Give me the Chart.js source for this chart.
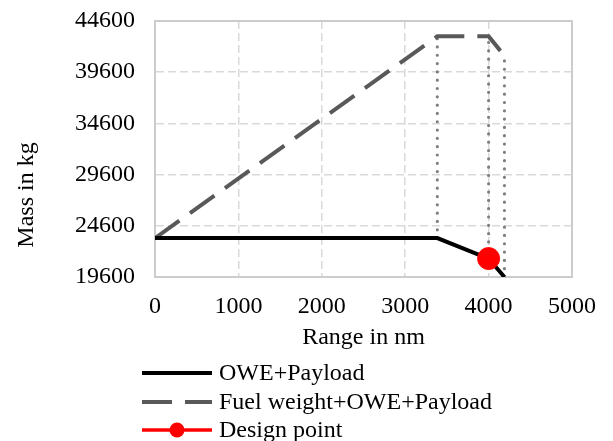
<!DOCTYPE html>
<html>
<head>
<meta charset="utf-8">
<script src="https://cdn.jsdelivr.net/npm/chart.js@4.4.0/dist/chart.umd.min.js"></script>
<style>
  html, body { margin: 0; padding: 0; background: #fff; }
</style>
</head>
<body>
<canvas id="grafico" width="613" height="441"></canvas>
<script>
// puntos de esquina del diagrama carga de pago - alcance
var rangoNm = [0, 3385, 4000, 4190];
var owePayload = [23400, 23400, 21400, 19600];
var fuelOwePayload = [23400, 43100, 43100, 41200];
var designRange = [4000];
var designMass = [21400];
var xTicks = [0, 1000, 2000, 3000, 4000, 5000];
var yTicks = [19600, 24600, 29600, 34600, 39600, 44600];
var legendLabels = ['OWE+Payload', 'Fuel weight+OWE+Payload', 'Design point'];

var fuente = "'Liberation Serif', 'Times New Roman', serif";

function puntos(xs, ys) {
  return xs.map((x, i) => ({ x: x, y: ys[i] }));
}

// lineas punteadas verticales entre las dos curvas
var lineasVerticales = [1, 2, 3].map(i => ({
  label: 'drop' + i,
  data: [{ x: rangoNm[i], y: owePayload[i] }, { x: rangoNm[i], y: fuelOwePayload[i] }],
  borderColor: '#7f7f7f',
  borderWidth: 3.2,
  borderCapStyle: 'round',
  borderDash: [0.01, 8.3],
  pointRadius: 0,
  order: 5
}));

// leyenda y titulo del eje y dibujados a mano (leyenda en columna)
var leyendaPlugin = {
  id: 'leyendaPlugin',
  afterDraw(chart) {
    var ctx = chart.ctx;
    ctx.save();
    ctx.fillStyle = '#000';
    ctx.font = '24px ' + fuente;
    ctx.textBaseline = 'middle';

    ctx.save();
    ctx.translate(27, 195);
    ctx.rotate(-Math.PI / 2);
    ctx.textAlign = 'center';
    ctx.fillText('Mass in kg', 0, 0);
    ctx.restore();

    var filas = [373, 402, 430];
    var x0 = 142, x1 = 212;
    ctx.lineCap = 'butt';
    // fila 1
    ctx.strokeStyle = '#000';
    ctx.lineWidth = 4;
    ctx.setLineDash([]);
    ctx.beginPath(); ctx.moveTo(x0, filas[0]); ctx.lineTo(x1, filas[0]); ctx.stroke();
    // fila 2
    ctx.strokeStyle = '#595959';
    ctx.setLineDash([30, 13]);
    ctx.beginPath(); ctx.moveTo(x0, filas[1]); ctx.lineTo(x1, filas[1]); ctx.stroke();
    // fila 3
    ctx.setLineDash([]);
    ctx.strokeStyle = '#ff0000';
    ctx.lineWidth = 3.5;
    ctx.beginPath(); ctx.moveTo(x0, filas[2]); ctx.lineTo(x1, filas[2]); ctx.stroke();
    ctx.fillStyle = '#ff0000';
    ctx.beginPath(); ctx.arc((x0 + x1) / 2, filas[2], 7.5, 0, Math.PI * 2); ctx.fill();

    ctx.fillStyle = '#000';
    ctx.textAlign = 'left';
    legendLabels.forEach((t, i) => ctx.fillText(t, 219, filas[i] + 1));
    ctx.restore();
  }
};

var ctx = document.getElementById('grafico').getContext('2d');
new Chart(ctx, {
  type: 'line',
  data: {
    datasets: [
      {
        label: legendLabels[2],
        data: puntos(designRange, designMass),
        borderColor: '#ff0000',
        backgroundColor: '#ff0000',
        pointRadius: 11,
        pointHoverRadius: 11,
        showLine: false,
        order: 0
      },
      {
        label: legendLabels[0],
        data: puntos(rangoNm, owePayload),
        borderColor: '#000000',
        borderWidth: 4,
        pointRadius: 0,
        order: 1
      },
      {
        label: legendLabels[1],
        data: puntos(rangoNm, fuelOwePayload),
        borderColor: '#595959',
        borderWidth: 4,
        borderDash: [30, 13],
        pointRadius: 0,
        order: 2
      }
    ].concat(lineasVerticales)
  },
  options: {
    responsive: false,
    animation: false,
    layout: { padding: { left: 0, right: 41, top: 21, bottom: 89 } },
    plugins: {
      legend: { display: false },
      tooltip: { enabled: false }
    },
    scales: {
      x: {
        type: 'linear',
        min: 0,
        max: 5000,
        afterBuildTicks: s => { s.ticks = xTicks.map(v => ({ value: v })); },
        afterFit: s => { s.height = 75; },
        grid: { color: '#d9d9d9', lineWidth: 1.5, drawTicks: false },
        border: { color: '#cccccc', width: 2, dash: [8, 4] },
        ticks: { color: '#000', padding: 15, font: { family: fuente, size: 24 }, callback: v => String(v), maxRotation: 0 },
        title: { display: true, text: 'Range in nm', color: '#000', font: { family: fuente, size: 24 }, padding: { top: 5, bottom: 0 } }
      },
      y: {
        type: 'linear',
        min: 19600,
        max: 44600,
        afterBuildTicks: s => { s.ticks = yTicks.map(v => ({ value: v })); },
        afterFit: s => { s.width = 155; s.paddingTop = 10; s.paddingBottom = 10; },
        grid: { color: '#d9d9d9', lineWidth: 1.5, drawTicks: false },
        border: { color: '#cccccc', width: 2, dash: [8, 4] },
        ticks: { color: '#000', padding: 20, font: { family: fuente, size: 24 }, callback: v => String(v) }
      }
    }
  },
  plugins: [leyendaPlugin, {
    // marco del area de trazado
    id: 'marco',
    beforeDatasetsDraw(chart) {
      var a = chart.chartArea, c = chart.ctx;
      c.save();
      c.strokeStyle = '#cccccc';
      c.lineWidth = 2;
      c.strokeRect(a.left, a.top, a.right - a.left, a.bottom - a.top);
      c.restore();
    }
  }]
});
</script>
</body>
</html>
